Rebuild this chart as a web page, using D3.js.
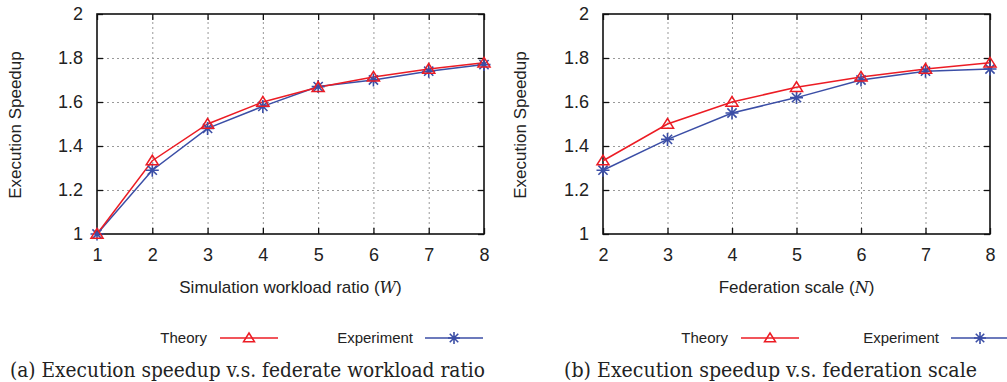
<!DOCTYPE html>
<html>
<head>
<meta charset="utf-8">
<script src="https://cdn.jsdelivr.net/npm/d3@7"></script>
<style>
  body { margin: 0; background: #fff; }
  svg { display: block; }
  text { font-family: "Liberation Sans", Arial, sans-serif; fill: #222; }
</style>
</head>
<body>
<svg id="chart" width="1007" height="382"></svg>
<script>
// panel (a): workload ratio W
const workloadRatio = [1, 2, 3, 4, 5, 6, 7, 8];
const theoryA = [1.0, 1.333, 1.5, 1.6, 1.667, 1.714, 1.75, 1.778];
const experimentA = [1.0, 1.29, 1.48, 1.58, 1.67, 1.70, 1.74, 1.77];

// panel (b): federation scale N
const federationScale = [2, 3, 4, 5, 6, 7, 8];
const theoryB = [1.333, 1.5, 1.6, 1.667, 1.714, 1.75, 1.778];
const experimentB = [1.29, 1.43, 1.55, 1.62, 1.70, 1.74, 1.75];

const yTicks = [1, 1.2, 1.4, 1.6, 1.8, 2];
const seriesNames = ['Theory', 'Experiment'];

const red = '#ec1c24';
const blue = '#3b4ea6';

const svg = d3.select('#chart');

const plotTop = 14, plotBottom = 234;
const y = d3.scaleLinear().domain([1, 2]).range([plotBottom, plotTop]);

function star(g, cx, cy, r) {
  const d = [];
  for (let a = 0; a < 4; a++) {
    const t = a * Math.PI / 4;
    d.push(`M${cx - r * Math.cos(t)},${cy - r * Math.sin(t)}L${cx + r * Math.cos(t)},${cy + r * Math.sin(t)}`);
  }
  g.append('path').attr('d', d.join('')).attr('stroke', blue).attr('stroke-width', 1.6).attr('fill', 'none');
}

function triangle(g, cx, cy, r) {
  g.append('path')
    .attr('d', `M${cx},${cy - r}L${cx + r * 1.1},${cy + r * 0.75}L${cx - r * 1.1},${cy + r * 0.75}Z`)
    .attr('stroke', red).attr('stroke-width', 1.5).attr('fill', 'none');
}

function drawPanel(p) {
  const g = svg.append('g');
  const x = d3.scaleLinear().domain(d3.extent(p.xs)).range([p.left, p.right]);
  const w = p.right - p.left;

  // grid
  g.append('g')
    .attr('transform', `translate(0,${plotBottom})`)
    .call(d3.axisBottom(x).tickValues(p.xs.slice(1, -1)).tickSize(-(plotBottom - plotTop)).tickFormat(''))
    .call(s => s.select('.domain').remove())
    .selectAll('line').attr('stroke', '#999').attr('stroke-dasharray', '2,3');
  g.append('g')
    .attr('transform', `translate(${p.left},0)`)
    .call(d3.axisLeft(y).tickValues(yTicks.slice(1, -1)).tickSize(-w).tickFormat(''))
    .call(s => s.select('.domain').remove())
    .selectAll('line').attr('stroke', '#999').attr('stroke-dasharray', '2,3');

  // inward ticks on all four sides
  const fmt = d3.format('~g');
  const yl = g.append('g')
    .attr('transform', `translate(${p.left},0)`)
    .call(d3.axisLeft(y).tickValues(yTicks).tickSizeInner(-6).tickSizeOuter(0).tickPadding(14).tickFormat(fmt));
  yl.selectAll('text').style('font-size', '18px').attr('fill', '#222');
  g.append('g')
    .attr('transform', `translate(${p.right},0)`)
    .call(d3.axisRight(y).tickValues(yTicks).tickSizeInner(-6).tickSizeOuter(0).tickFormat(''));
  const xl = g.append('g')
    .attr('transform', `translate(0,${plotBottom})`)
    .call(d3.axisBottom(x).tickValues(p.xs).tickSizeInner(-6).tickSizeOuter(0).tickPadding(14).tickFormat(fmt));
  xl.selectAll('text').style('font-size', '18px').attr('fill', '#222');
  g.append('g')
    .attr('transform', `translate(0,${plotTop})`)
    .call(d3.axisTop(x).tickValues(p.xs).tickSizeInner(-6).tickSizeOuter(0).tickFormat(''));
  g.selectAll('.tick line').filter(function () { return !this.getAttribute('stroke-dasharray'); })
    .attr('stroke', '#111').attr('stroke-width', 1.3);
  g.selectAll('.domain').remove();

  // frame
  g.append('rect')
    .attr('x', p.left).attr('y', plotTop).attr('width', w).attr('height', plotBottom - plotTop)
    .attr('fill', 'none').attr('stroke', '#111').attr('stroke-width', 1.6);

  // lines
  const line = d3.line().x(d => x(d[0])).y(d => y(d[1]));
  const th = p.xs.map((v, i) => [v, p.theory[i]]);
  const ex = p.xs.map((v, i) => [v, p.experiment[i]]);
  g.append('path').attr('d', line(ex)).attr('fill', 'none').attr('stroke', blue).attr('stroke-width', 1.5);
  g.append('path').attr('d', line(th)).attr('fill', 'none').attr('stroke', red).attr('stroke-width', 1.5);
  ex.forEach(d => star(g, x(d[0]), y(d[1]), 6.5));
  th.forEach(d => triangle(g, x(d[0]), y(d[1]), 5.5));

  // axis titles
  g.append('text')
    .attr('transform', `translate(${p.yLabelX},${(plotTop + plotBottom) / 2 + 1}) rotate(-90)`)
    .attr('text-anchor', 'middle').attr('dy', '0.35em')
    .style('font-size', '17px').text('Execution Speedup');
  const xt = g.append('text')
    .attr('x', (p.left + p.right) / 2).attr('y', 293)
    .attr('text-anchor', 'middle').style('font-size', '17px');
  xt.append('tspan').text(p.xTitle + ' (');
  xt.append('tspan').style('font-family', '"DejaVu Serif", serif').style('font-style', 'italic').style('font-size', '16px').text(p.xVar);
  xt.append('tspan').text(')');

  // legend
  const ly = 338;
  const lg = g.append('g');
  lg.append('text').attr('x', p.legend[0]).attr('y', ly).attr('dy', '0.35em')
    .attr('text-anchor', 'end').style('font-size', '15px').text(seriesNames[0]);
  lg.append('line').attr('x1', p.legend[0] + 13).attr('x2', p.legend[0] + 71)
    .attr('y1', ly).attr('y2', ly).attr('stroke', red).attr('stroke-width', 1.5);
  triangle(lg, p.legend[0] + 42, ly, 5);
  lg.append('text').attr('x', p.legend[1]).attr('y', ly).attr('dy', '0.35em')
    .attr('text-anchor', 'end').style('font-size', '15px').text(seriesNames[1]);
  lg.append('line').attr('x1', p.legend[1] + 12).attr('x2', p.legend[1] + 70)
    .attr('y1', ly).attr('y2', ly).attr('stroke', blue).attr('stroke-width', 1.5);
  star(lg, p.legend[1] + 41, ly, 6);

  // caption
  g.append('text')
    .attr('x', p.captionX).attr('y', 377)
    .attr('textLength', p.captionW).attr('lengthAdjust', 'spacingAndGlyphs')
    .style('font-family', '"DejaVu Serif", serif').style('font-size', '20px')
    .text(p.caption);
}

drawPanel({
  xs: workloadRatio, theory: theoryA, experiment: experimentA,
  left: 97, right: 484, yLabelX: 15,
  xTitle: 'Simulation workload ratio', xVar: 'W',
  legend: [207, 413],
  caption: '(a) Execution speedup v.s. federate workload ratio', captionX: 10, captionW: 475
});

drawPanel({
  xs: federationScale, theory: theoryB, experiment: experimentB,
  left: 603, right: 990, yLabelX: 520,
  xTitle: 'Federation scale', xVar: 'N',
  legend: [728, 939],
  caption: '(b) Execution speedup v.s. federation scale', captionX: 564, captionW: 413
});
</script>
</body>
</html>
